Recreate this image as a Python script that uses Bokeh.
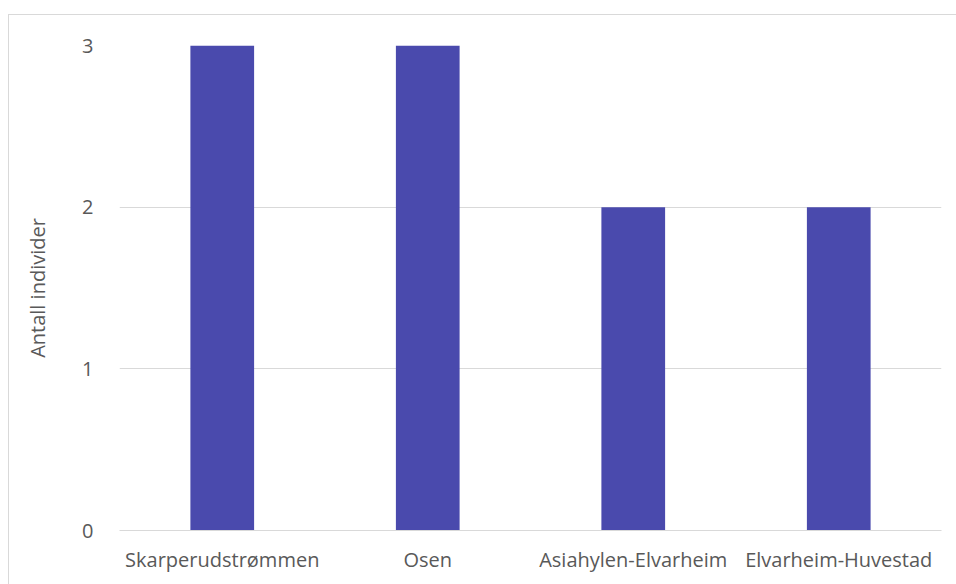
from bokeh.plotting import figure
from bokeh.models import ColumnDataSource, Range1d, FixedTicker
from bokeh.embed import file_html
from bokeh.resources import INLINE

categories = ["Skarperudstrømmen", "Osen", "Asiahylen-Elvarheim", "Elvarheim-Huvestad"]
values = [3, 3, 2, 2]
y_ticks = [0, 1, 2, 3]

FONT = "Open Sans"
TXT = "#595959"
GRID = "#d9d9d9"
FS = "20px"

src = ColumnDataSource(dict(cat=categories, val=values))

p = figure(x_range=categories, y_range=Range1d(0, 3), width=948, height=570,
           output_backend="svg", toolbar_location=None,
           min_border_left=110, min_border_right=16, min_border_top=30, min_border_bottom=55,
           margin=(14, 0, 0, 8),
           styles={"border-top": "1px solid #d9d9d9", "border-left": "1px solid #d9d9d9",
                   "box-sizing": "border-box"})
p.x_range.range_padding = 0
p.vbar(x="cat", top="val", width=0.31, source=src, color="#4a4aad", line_color=None)

p.outline_line_color = None
p.xgrid.grid_line_color = None
p.ygrid.grid_line_color = GRID
p.ygrid.ticker = FixedTicker(ticks=y_ticks)
p.yaxis.ticker = FixedTicker(ticks=y_ticks)

p.yaxis.axis_line_color = None
p.yaxis.major_tick_line_color = None
p.yaxis.minor_tick_line_color = None
p.yaxis.major_label_text_font = FONT
p.yaxis.major_label_text_font_size = FS
p.yaxis.major_label_text_color = TXT
p.yaxis.major_label_standoff = 20
p.yaxis.axis_label = "Antall individer"
p.yaxis.axis_label_text_font = FONT
p.yaxis.axis_label_text_font_size = FS
p.yaxis.axis_label_text_font_style = "normal"
p.yaxis.axis_label_text_color = TXT
p.yaxis.axis_label_standoff = 28

p.xaxis.axis_line_color = GRID
p.xaxis.major_tick_line_color = None
p.xaxis.minor_tick_line_color = None
p.xaxis.major_label_text_font = FONT
p.xaxis.major_label_text_font_size = FS
p.xaxis.major_label_text_color = TXT
p.xaxis.major_label_standoff = 9

p.background_fill_color = "white"
p.border_fill_color = "white"

open("out.html", "w").write(file_html(p, INLINE))
